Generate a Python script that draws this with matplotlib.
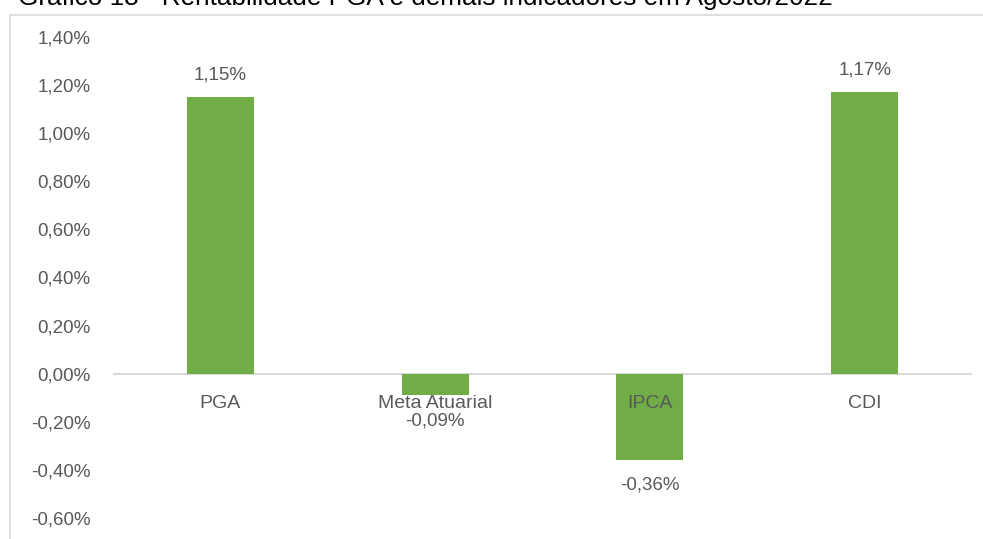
import matplotlib.pyplot as plt
from matplotlib.patches import Rectangle

categorias = ['PGA', 'Meta Atuarial', 'IPCA', 'CDI']
valores = [1.15, -0.09, -0.36, 1.17]
rotulos = ['1,15%', '-0,09%', '-0,36%', '1,17%']
yticks = [-0.6, -0.4, -0.2, 0.0, 0.2, 0.4, 0.6, 0.8, 1.0, 1.2, 1.4]

plt.rcParams['font.family'] = ['Liberation Sans', 'DejaVu Sans']
cinza = '#595959'
verde = '#70ad47'

W, H = 983, 539
fig = plt.figure(figsize=(W / 100, H / 100), dpi=100)

# moldura do gráfico (cortada à direita e embaixo)
fig.patches.append(Rectangle((10 / W, -0.1), 1.1, (H - 15) / H + 0.1,
                             transform=fig.transFigure, fill=False,
                             edgecolor='#d9d9d9', linewidth=1.2))

# título cortado no topo
fig.text(18 / W, 1 - 5 / H, 'Gráfico 18 - Rentabilidade PGA e demais indicadores em Agosto/2022',
         fontsize=18.8, color='black', va='baseline', ha='left')

ax = fig.add_axes([113 / W, 21 / H, (972 - 113) / W, (518 - 37) / H])
x = list(range(len(categorias)))
ax.bar(x, valores, width=0.312, color=verde, zorder=2)
ax.axhline(0, color='#d9d9d9', linewidth=1.5, zorder=1)

ax.set_xlim(-0.5, 3.5)
ax.set_ylim(-0.6, 1.4)
ax.set_yticks(yticks)
ax.set_yticklabels([f'{v:.2f}%'.replace('.', ',') for v in yticks])
ax.set_xticks([])
for s in ax.spines.values():
    s.set_visible(False)
ax.tick_params(axis='y', length=0, labelsize=13.5, labelcolor=cinza, pad=16)

for i, (cat, v, r) in enumerate(zip(categorias, valores, rotulos)):
    ax.text(i, -0.09, cat, ha='center', va='top', fontsize=14, color=cinza, zorder=3)
    if v >= 0:
        ax.annotate(r, (i, v), xytext=(0, 10), textcoords='offset points',
                    ha='center', va='bottom', fontsize=13.5, color=cinza)
    else:
        ax.annotate(r, (i, v), xytext=(0, -12), textcoords='offset points',
                    ha='center', va='top', fontsize=13.5, color=cinza)

plt.savefig('out.png', dpi=100)
